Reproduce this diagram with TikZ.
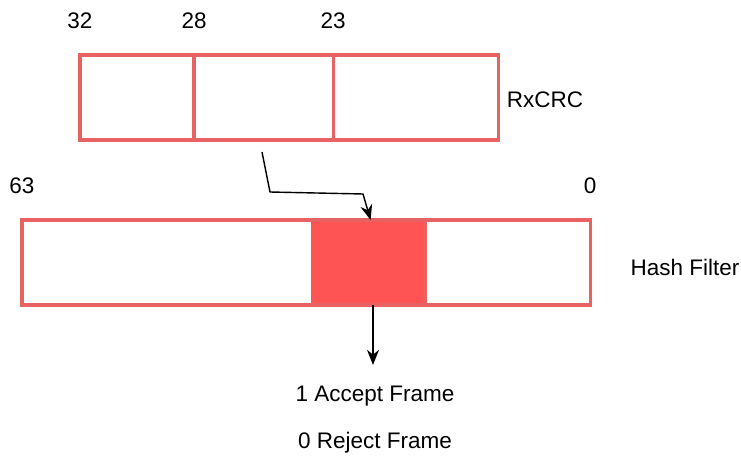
\documentclass[tikz,border=0pt]{standalone}
\usepackage{fontspec}
\setmainfont{Liberation Sans}
\usepackage{xcolor}
\usepackage{tikz}
\usetikzlibrary{arrows.meta,positioning}
\definecolor{boxred}{RGB}{232,98,98}
\definecolor{hitred}{RGB}{255,84,84}

\begin{document}
\begin{tikzpicture}[
  x=0.025cm, y=-0.025cm,
  seg/.style={draw=boxred, line width=2.2pt, minimum height=2.125cm,
              inner sep=0pt, outer sep=0pt, anchor=north west},
  num/.style={font=\fontsize{16}{18}\selectfont, inner sep=0pt, anchor=south},
  lbl/.style={font=\fontsize{16}{18}\selectfont, inner sep=0pt},
  arr/.style={-{Stealth[length=3.8mm, width=3mm]}, line width=1pt, black},
]
\useasboundingbox (0,0) rectangle (741,459);

% RxCRC register
\node[seg, minimum width=2.85cm] (c1) at (80,55) {};
\node[seg, minimum width=3.475cm] (c2) at (c1.north east) {};
\node[seg, minimum width=4.125cm] (c3) at (c2.north east) {};
\node[num, above=0.65cm of c1.north west] (n32) {32};
\node[num, above=0.65cm of c2.north west] (n28) {28};
\node[num, above=0.65cm of c3.north west] (n23) {23};
\node[lbl] (rxcrc) at (545,100) {RxCRC};

% hash filter
\node[seg, minimum width=7.25cm] (h1) at (22,220) {};
\node[seg, minimum width=2.825cm, fill=hitred, draw=hitred] (hit) at (h1.north east) {};
\node[seg, minimum width=4.125cm] (h2) at (hit.north east) {};
\draw[boxred, line width=2.2pt] (h1.north west) rectangle (h2.south east);
\node[num, above=0.65cm of h1.north west] (n63) {63};
\node[num, above=0.65cm of h2.north east] (n0) {0};
\node[lbl] (hashf) at (685,267) {Hash Filter};

% result
\node[lbl] (acc) at (375,396) {1 Accept Frame};
\node[lbl] (rej) at (375,443) {0 Reject Frame};

\coordinate (src) at (262,152);
\coordinate (bend1) at (270,192);
\coordinate (bend2) at (363,194);
\coordinate (res) at (373,365);
\draw[arr] (src) -- (bend1) -- (bend2) -- ([xshift=0.05cm]hit.north);
\draw[arr] (hit.south -| res) -- (res);
\end{tikzpicture}
\end{document}
